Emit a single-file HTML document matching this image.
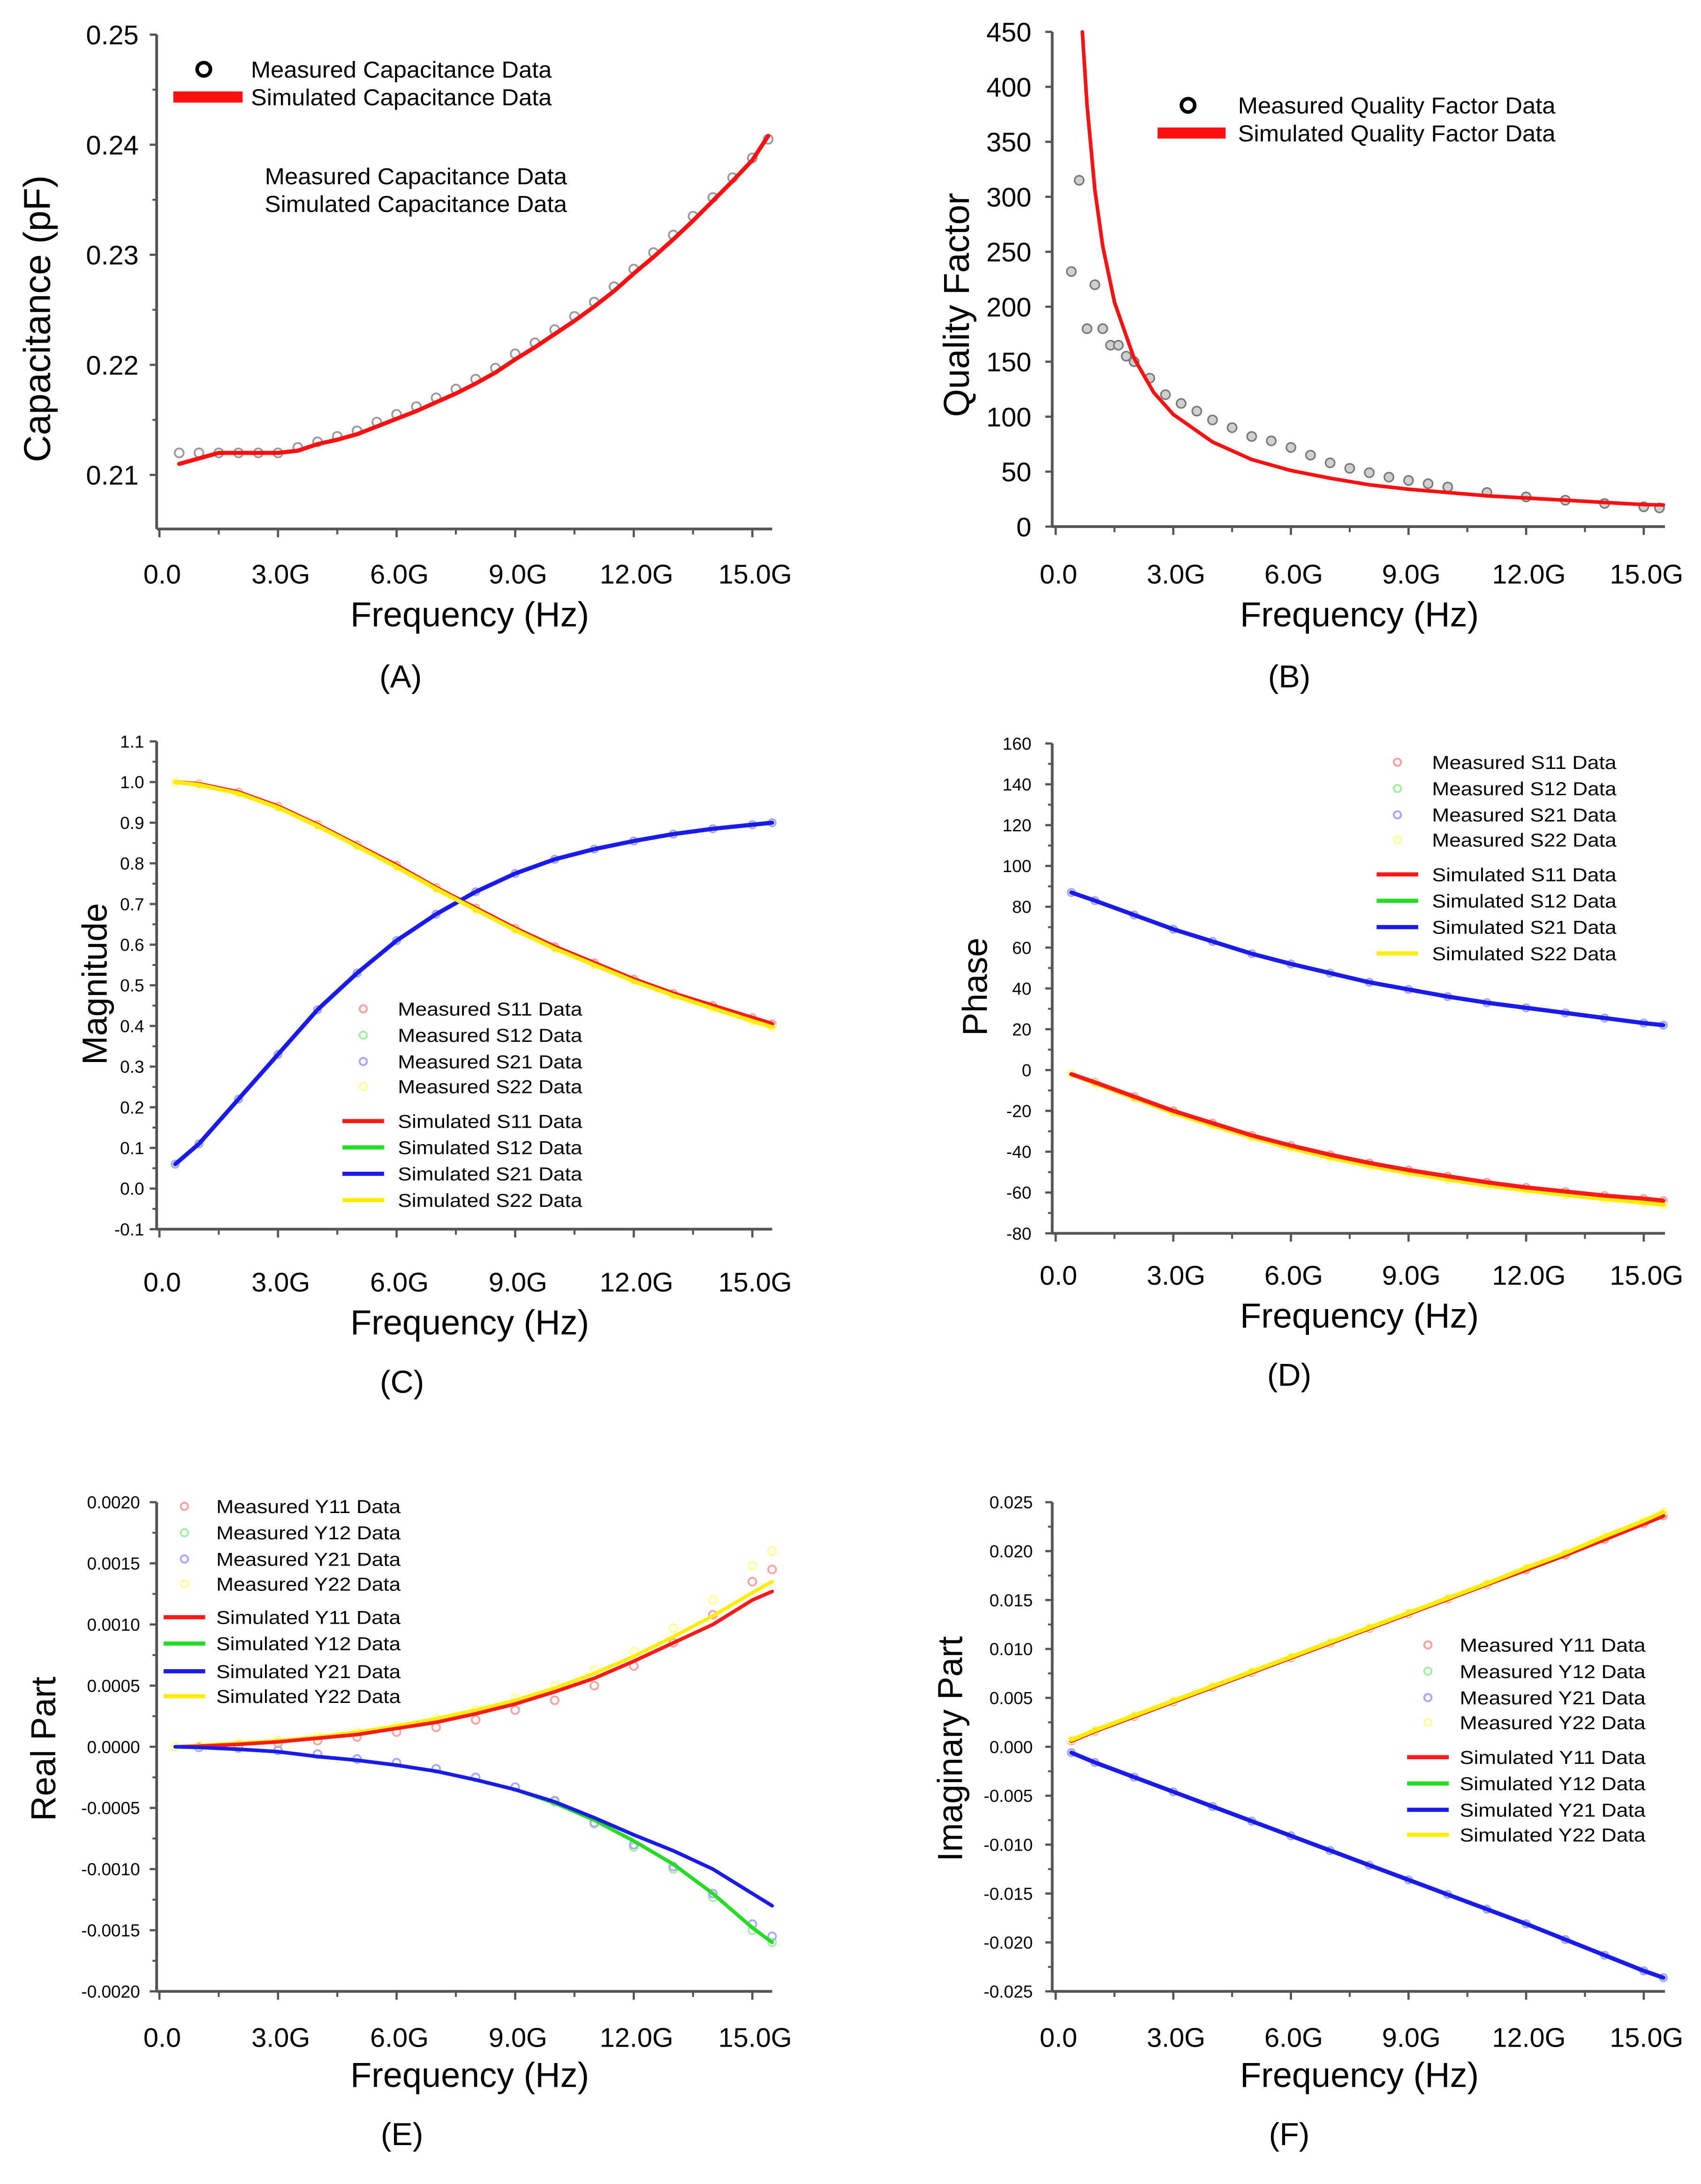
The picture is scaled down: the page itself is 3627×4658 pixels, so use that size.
<!DOCTYPE html>
<html>
<head>
<meta charset="utf-8">
<style>
html,body{margin:0;padding:0;background:#fff;}
svg{display:block;}
text{font-family:"Liberation Sans",Arial,sans-serif;fill:#000;}
</style>
</head>
<body>
<svg id="fig" xmlns="http://www.w3.org/2000/svg" width="3627" height="4658" viewBox="0 0 1227 1576" preserveAspectRatio="none"></svg>
<script>
// ---------- Panel A data ----------
const capFreq = [0.5,1,1.5,2,2.5,3,3.5,4,4.5,5,5.5,6,6.5,7,7.5,8,8.5,9,9.5,10,10.5,11,11.5,12,12.5,13,13.5,14,14.5,15,15.4];
const capMeasured = [0.212,0.212,0.212,0.212,0.212,0.212,0.2125,0.213,0.2135,0.214,0.2148,0.2155,0.2162,0.2170,0.2178,0.2187,0.2197,0.2210,0.2220,0.2232,0.2244,0.2257,0.2271,0.2287,0.2302,0.2318,0.2335,0.2352,0.2370,0.2388,0.2405];
const capSimulated = [0.211,0.2115,0.212,0.212,0.212,0.212,0.2122,0.2128,0.2132,0.2137,0.2144,0.2151,0.2158,0.2166,0.2174,0.2183,0.2193,0.2205,0.2216,0.2228,0.2240,0.2253,0.2267,0.2283,0.2298,0.2314,0.2331,0.2349,0.2367,0.2386,0.2408];
const capTicks = [0.21,0.22,0.23,0.24,0.25];
// ---------- Panel B data ----------
const qMeasFreq = [0.4,0.6,0.8,1.0,1.2,1.4,1.6,1.8,2.0,2.4,2.8,3.2,3.6,4,4.5,5,5.5,6,6.5,7,7.5,8,8.5,9,9.5,10,11,12,13,14,15,15.4];
const qMeasured = [232,315,180,220,180,165,165,155,150,135,120,112,105,97,90,82,78,72,65,58,53,49,45,42,39,36,31,27,24,21,18,17];
const qSimFreq = [0.68,0.8,1,1.2,1.5,2,2.5,3,4,5,6,7,8,9,10,11,12,13,14,15,15.5];
const qSimulated = [450,383,306,255,204,153,122,102,77,61,51,44,38,34,31,28,26,24,22,20,19.7];
const qTicks = [0,50,100,150,200,250,300,350,400,450];
// ---------- Shared frequency grid for C-F ----------
const sFreq = [0.4,1,2,3,4,5,6,7,8,9,10,11,12,13,14,15,15.5];
// ---------- Panel C data (magnitude) ----------
const magS11 = [1.0,0.995,0.975,0.94,0.895,0.845,0.795,0.74,0.69,0.64,0.595,0.555,0.515,0.48,0.45,0.42,0.405];
const magS22 = [1.0,0.993,0.972,0.937,0.892,0.842,0.791,0.737,0.686,0.636,0.59,0.55,0.51,0.475,0.443,0.412,0.397];
const magS21 = [0.06,0.11,0.22,0.33,0.44,0.53,0.61,0.675,0.73,0.775,0.81,0.835,0.855,0.872,0.885,0.895,0.90];
const magS12 = [0.06,0.11,0.22,0.33,0.44,0.53,0.61,0.675,0.73,0.775,0.81,0.835,0.855,0.872,0.885,0.895,0.90];
const magTicks = [-0.1,0,0.1,0.2,0.3,0.4,0.5,0.6,0.7,0.8,0.9,1.0,1.1];
// ---------- Panel D data (phase) ----------
const phS21 = [87,83,76,69,63,57,52,47.5,43,39.5,36,33,30.5,28,25.5,23,22];
const phS12 = [87,83,76,69,63,57,52,47.5,43,39.5,36,33,30.5,28,25.5,23,22];
const phS11 = [-2,-6,-13,-20,-26,-32,-37,-41.5,-45.5,-49,-52,-55,-57.5,-59.5,-61.5,-63,-64];
const phS22 = [-2,-6.5,-13.8,-21,-27.2,-33,-38.3,-43,-47,-50.5,-53.6,-56.5,-59,-61.2,-63.2,-65,-66];
const phTicks = [-80,-60,-40,-20,0,20,40,60,80,100,120,140,160];
// ---------- Panel E data (real part) ----------
const reY11Sim = [0,0.000005,0.00002,0.00004,0.00007,0.0001,0.00015,0.0002,0.00027,0.00035,0.00045,0.00056,0.0007,0.00085,0.001,0.0012,0.00127];
const reY22Sim = [0,0.00001,0.00003,0.00005,0.00008,0.00012,0.00017,0.00023,0.0003,0.00038,0.00048,0.0006,0.00074,0.0009,0.00107,0.00126,0.00135];
const reY11Meas = [0,0.000005,0.00001,0.00003,0.00005,0.00008,0.00012,0.00016,0.00022,0.0003,0.00038,0.0005,0.00066,0.00085,0.00108,0.00135,0.00145];
const reY22Meas = [0,0.00001,0.00003,0.00005,0.00008,0.00012,0.00017,0.00023,0.0003,0.0004,0.0005,0.00063,0.00078,0.00097,0.0012,0.00148,0.0016];
const reY21Sim = [0,-0.000005,-0.00002,-0.00004,-0.00008,-0.00011,-0.00015,-0.0002,-0.00027,-0.00035,-0.00045,-0.00058,-0.00072,-0.00085,-0.001,-0.0012,-0.0013];
const reY12Sim = [0,-0.000005,-0.00002,-0.00004,-0.00008,-0.00011,-0.00015,-0.0002,-0.00027,-0.00035,-0.00046,-0.0006,-0.00077,-0.00096,-0.0012,-0.00148,-0.0016];
const reY21Meas = [0,-0.000005,-0.00001,-0.00003,-0.00006,-0.0001,-0.00013,-0.00018,-0.00025,-0.00033,-0.00044,-0.00062,-0.0008,-0.00098,-0.0012,-0.00145,-0.00155];
const reY12Meas = [0,-0.000005,-0.00001,-0.00003,-0.00006,-0.0001,-0.00013,-0.00018,-0.00025,-0.00033,-0.00045,-0.00063,-0.00082,-0.001,-0.00123,-0.0015,-0.0016];
const reTicks = [-0.002,-0.0015,-0.001,-0.0005,0,0.0005,0.001,0.0015,0.002];
// ---------- Panel F data (imaginary part) ----------
const imY11 = [0.0006,0.0016,0.0031,0.0046,0.0061,0.0076,0.0091,0.0106,0.0121,0.0136,0.0151,0.0166,0.0181,0.0196,0.0212,0.0228,0.0236];
const imY22 = [0.0007,0.0017,0.0032,0.0047,0.0062,0.0077,0.0092,0.0107,0.0122,0.0137,0.0152,0.0167,0.0183,0.0198,0.0215,0.0231,0.0240];
const imY21 = [-0.0006,-0.0016,-0.0031,-0.0046,-0.0061,-0.0076,-0.0091,-0.0106,-0.0121,-0.0136,-0.0151,-0.0166,-0.0181,-0.0197,-0.0213,-0.0229,-0.0236];
const imY12 = [-0.0006,-0.0016,-0.0031,-0.0046,-0.0061,-0.0076,-0.0091,-0.0106,-0.0121,-0.0136,-0.0151,-0.0166,-0.0181,-0.0197,-0.0213,-0.0229,-0.0236];
const imTicks = [-0.025,-0.02,-0.015,-0.01,-0.005,0,0.005,0.01,0.015,0.02,0.025];
const freqTicks = [0,3,6,9,12,15];
const freqTickLabels = ["0.0","3.0G","6.0G","9.0G","12.0G","15.0G"];

const NS = "http://www.w3.org/2000/svg";
const svg = document.getElementById('fig');
function mk(tag, attrs, parent){
  const e = document.createElementNS(NS, tag);
  for (const k in attrs) e.setAttribute(k, attrs[k]);
  (parent||svg).appendChild(e);
  return e;
}
function linMap(v1,p1,v2,p2){ return v => p1 + (v - v1) * (p2 - p1) / (v2 - v1); }

function makePanel(p){
  const g = mk('g', {});
  
  
  const X = linMap(0, p.x0, 15, p.x15);
  const Y = linMap(p.v1, p.p1, p.v2, p.p2);
  const yAx = mk('line', {x1:p.axisX, y1:p.axisTop, x2:p.axisX, y2:p.axisBottom, stroke:'#555', 'stroke-width':2}, g);
  
  
  const xAx = mk('line', {x1:p.axisX, y1:p.axisBottom, x2:p.axisRight, y2:p.axisBottom, stroke:'#555', 'stroke-width':2}, g);
  
  
  p.yTicks.forEach((t,i) => {
    const y = Y(t);
    mk('line', {x1:p.axisX-5, y1:y, x2:p.axisX, y2:y, stroke:'#555', 'stroke-width':1.6}, g);
    if (p.minor && i < p.yTicks.length-1) {
      const ym = (Y(t) + Y(p.yTicks[i+1]))/2;
      mk('line', {x1:p.axisX-3, y1:ym, x2:p.axisX, y2:ym, stroke:'#555', 'stroke-width':1.4}, g);
    }
    const tx = mk('text', {x:p.yLabelX, y:y + p.yFont*0.36, 'font-size':p.yFont, 'text-anchor':'end'}, g);
    
    
    tx.textContent = t.toFixed(p.dec);
  });
  freqTicks.forEach((f,i) => {
    const x = X(f);
    mk('line', {x1:x, y1:p.axisBottom, x2:x, y2:p.axisBottom+6, stroke:'#555', 'stroke-width':1.6}, g);
    const xm = X(f+1.5);
    if (f+1.5 <= 15.5) mk('line', {x1:xm, y1:p.axisBottom, x2:xm, y2:p.axisBottom+4, stroke:'#555', 'stroke-width':1.4}, g);
    const tx = mk('text', {x:x+2, y:p.xLabelY, 'font-size':19.5, 'text-anchor':'middle'}, g);
    
    
    tx.textContent = freqTickLabels[i];
  });
  const xt = mk('text', {x:(p.x0+p.x15)/2+p.titleShift, y:p.xTitleY, 'font-size':25, 'text-anchor':'middle'}, g);
  
  
  xt.textContent = 'Frequency (Hz)';
  const yt = mk('text', {x:0, y:0, 'font-size':p.yTitleFont, 'text-anchor':'middle', transform:'translate(' + p.yTitleX + ',' + p.yTitleY + ') rotate(-90)'}, g);
  
  
  yt.textContent = p.yTitle;
  const cap = mk('text', {x:p.capX, y:p.capY, 'font-size':23, 'text-anchor':'middle'}, g);
  
  
  cap.textContent = p.caption;
  return {g, X, Y};
}
function drawLine(P, xs, ys, color, w, name){
  const d = xs.map((f,i) => (i ? 'L' : 'M') + P.X(f).toFixed(2) + ' ' + P.Y(ys[i]).toFixed(2)).join(' ');
  const e = mk('path', {d, fill:'none', stroke:color, 'stroke-width':w, 'stroke-linejoin':'round', 'stroke-linecap':'round'}, P.g);
  
  
}
function drawPts(P, xs, ys, stroke, fill, r, sw, name){
  const gg = mk('g', {}, P.g);
  
  
  xs.forEach((f,i) => {
    mk('circle', {cx:P.X(f), cy:P.Y(ys[i]), r, fill, stroke, 'stroke-width':sw}, gg);
  });
}
function legText(P, x, y, s, size, len, name){
  const t = mk('text', {x, y:y + size*0.36, 'font-size':size, textLength:len, lengthAdjust:'spacingAndGlyphs'}, P.g);
  
  
  t.textContent = s;
}
const colors = {r:'#ff1a1a', g:'#22dd22', b:'#1a1aee', y:'#ffee00'};
const mcol = {r:'#f6a3a3', g:'#a6eea6', b:'#a9a9f3', y:'#ffff99'};
function sLegend(P, mx, tx, rows, lineRows, prefix, len){
  const keys = ['r','g','b','y'];
  const names = [prefix+'11', prefix+'12', prefix+'21', prefix+'22'];
  rows.forEach((y,i) => {
    mk('circle', {cx:mx, cy:y, r:2.6, fill:'none', stroke:mcol[keys[i]], 'stroke-width':1.4}, P.g);
    legText(P, tx, y, 'Measured  ' + names[i] + ' Data', 13.5, len, 'legend-measured-' + names[i].toLowerCase());
  });
  lineRows.forEach((y,i) => {
    mk('line', {x1:mx-15, y1:y, x2:mx+15, y2:y, stroke:colors[keys[i]], 'stroke-width':3}, P.g);
    legText(P, tx, y, 'Simulated  ' + names[i] + ' Data', 13.5, len, 'legend-simulated-' + names[i].toLowerCase());
  });
}

// ---------- Panel A ----------
const A = makePanel({name:'panel-a-capacitance', x0:115, x15:542.7, v1:0.21, p1:342.7, v2:0.25, p2:25,
  axisX:113, axisTop:25, axisBottom:381.7, axisRight:557, yTicks:capTicks, dec:2, minor:true, yLabelX:100, yFont:19.5,
  xLabelY:421, xTitleY:452, titleShift:10, yTitle:'Capacitance (pF)', yTitleX:36, yTitleY:230, yTitleFont:27, caption:'(A)', capX:289, capY:496});
drawPts(A, capFreq, capMeasured, '#9a9a9a', 'none', 3.2, 1.3, 'measured-capacitance-points');
drawLine(A, capFreq, capSimulated, '#ff1010', 3, 'simulated-capacitance-line');
mk('circle', {cx:147, cy:50, r:4.8, fill:'none', stroke:'#000', 'stroke-width':2.6}, A.g);
legText(A, 181, 50, 'Measured Capacitance Data', 16.5, 217, 'legend-measured-capacitance');
mk('rect', {x:125, y:66, width:50, height:8, fill:'#ff1010'}, A.g);
legText(A, 181, 70, 'Simulated Capacitance Data', 16.5, 217, 'legend-simulated-capacitance');
legText(A, 191, 127, 'Measured Capacitance Data', 16.5, 218, 'duplicate-legend-measured');
legText(A, 191, 147, 'Simulated Capacitance Data', 16.5, 218, 'duplicate-legend-simulated');

// ---------- Panel B ----------
const B = makePanel({name:'panel-b-quality-factor', x0:761.5, x15:1185.7, v1:0, p1:380, v2:450, p2:23,
  axisX:759, axisTop:23, axisBottom:380, axisRight:1201, yTicks:qTicks, dec:0, minor:false, yLabelX:744, yFont:19.5,
  xLabelY:421, xTitleY:452, titleShift:7, yTitle:'Quality Factor', yTitleX:699, yTitleY:220, yTitleFont:26, caption:'(B)', capX:930, capY:496});
drawPts(B, qMeasFreq, qMeasured, '#777', '#d0d0d0', 3.3, 1.1, 'measured-quality-factor-points');
drawLine(B, qSimFreq, qSimulated, '#ff1010', 2.6, 'simulated-quality-factor-line');
mk('circle', {cx:857, cy:76, r:4.8, fill:'none', stroke:'#000', 'stroke-width':2.6}, B.g);
legText(B, 893, 76, 'Measured Quality Factor Data', 16.5, 229, 'legend-measured-quality-factor');
mk('rect', {x:835, y:92, width:49, height:8, fill:'#ff1010'}, B.g);
legText(B, 893, 96, 'Simulated Quality Factor Data', 16.5, 229, 'legend-simulated-quality-factor');

// ---------- Panel C ----------
const C = makePanel({name:'panel-c-magnitude', x0:115, x15:542.7, v1:-0.1, p1:887, v2:1.1, p2:535,
  axisX:113, axisTop:535, axisBottom:887, axisRight:557, yTicks:magTicks, dec:1, minor:true, yLabelX:104, yFont:12.5,
  xLabelY:932, xTitleY:963, titleShift:10, yTitle:'Magnitude', yTitleX:77, yTitleY:710, yTitleFont:25, caption:'(C)', capX:290, capY:1005});
drawPts(C, sFreq, magS11, mcol.r, 'none', 2.6, 1.3, 'measured-s11-points');
drawPts(C, sFreq, magS12, mcol.g, 'none', 2.6, 1.3, 'measured-s12-points');
drawPts(C, sFreq, magS21, mcol.b, 'none', 2.6, 1.3, 'measured-s21-points');
drawPts(C, sFreq, magS22, mcol.y, 'none', 2.6, 1.3, 'measured-s22-points');
drawLine(C, sFreq, magS11, colors.r, 3, 'simulated-s11-line');
drawLine(C, sFreq, magS12, colors.g, 3, 'simulated-s12-line');
drawLine(C, sFreq, magS21, colors.b, 3, 'simulated-s21-line');
drawLine(C, sFreq, magS22, colors.y, 3, 'simulated-s22-line');
sLegend(C, 262, 287, [728,747,766,784], [809,828,847,866], 'S', 133);

// ---------- Panel D ----------
const D = makePanel({name:'panel-d-phase', x0:761.5, x15:1185.7, v1:-80, p1:890, v2:160, p2:536.5,
  axisX:759, axisTop:536.5, axisBottom:890, axisRight:1201, yTicks:phTicks, dec:0, minor:true, yLabelX:744, yFont:12.5,
  xLabelY:927, xTitleY:958, titleShift:7, yTitle:'Phase', yTitleX:712, yTitleY:712, yTitleFont:25, caption:'(D)', capX:930, capY:1000});
drawPts(D, sFreq, phS11, mcol.r, 'none', 2.6, 1.3, 'measured-s11-points');
drawPts(D, sFreq, phS12, mcol.g, 'none', 2.6, 1.3, 'measured-s12-points');
drawPts(D, sFreq, phS21, mcol.b, 'none', 2.6, 1.3, 'measured-s21-points');
drawPts(D, sFreq, phS22, mcol.y, 'none', 2.6, 1.3, 'measured-s22-points');
drawLine(D, sFreq, phS22, colors.y, 3, 'simulated-s22-line');
drawLine(D, sFreq, phS11, colors.r, 3, 'simulated-s11-line');
drawLine(D, sFreq, phS12, colors.g, 3, 'simulated-s12-line');
drawLine(D, sFreq, phS21, colors.b, 3, 'simulated-s21-line');
sLegend(D, 1008, 1033, [550,569,588,606], [631,650,669,688], 'S', 133);

// ---------- Panel E ----------
const E = makePanel({name:'panel-e-real-part', x0:115, x15:542.7, v1:-0.002, p1:1437, v2:0.002, p2:1084,
  axisX:113, axisTop:1084, axisBottom:1437, axisRight:557, yTicks:reTicks, dec:4, minor:true, yLabelX:101, yFont:12.5,
  xLabelY:1477, xTitleY:1506, titleShift:10, yTitle:'Real Part', yTitleX:40, yTitleY:1262, yTitleFont:25, caption:'(E)', capX:290, capY:1548});
drawPts(E, sFreq, reY11Meas, mcol.r, 'none', 2.8, 1.3, 'measured-y11-points');
drawPts(E, sFreq, reY12Meas, mcol.g, 'none', 2.8, 1.3, 'measured-y12-points');
drawPts(E, sFreq, reY21Meas, mcol.b, 'none', 2.8, 1.3, 'measured-y21-points');
drawPts(E, sFreq, reY22Meas, mcol.y, 'none', 2.8, 1.3, 'measured-y22-points');
drawLine(E, sFreq, reY22Sim, colors.y, 2.6, 'simulated-y22-line');
drawLine(E, sFreq, reY11Sim, colors.r, 2.6, 'simulated-y11-line');
drawLine(E, sFreq, reY12Sim, colors.g, 2.6, 'simulated-y12-line');
drawLine(E, sFreq, reY21Sim, colors.b, 2.6, 'simulated-y21-line');
sLegend(E, 133, 156, [1087,1106,1125,1143], [1167,1186,1206,1224], 'Y', 133);

// ---------- Panel F ----------
const F = makePanel({name:'panel-f-imaginary-part', x0:761.5, x15:1185.7, v1:-0.025, p1:1437, v2:0.025, p2:1084,
  axisX:759, axisTop:1084, axisBottom:1437, axisRight:1201, yTicks:imTicks, dec:3, minor:true, yLabelX:745, yFont:12.5,
  xLabelY:1477, xTitleY:1506, titleShift:7, yTitle:'Imaginary Part', yTitleX:694, yTitleY:1262, yTitleFont:25, caption:'(F)', capX:930, capY:1548});
drawPts(F, sFreq, imY11, mcol.r, 'none', 2.6, 1.3, 'measured-y11-points');
drawPts(F, sFreq, imY12, mcol.g, 'none', 2.6, 1.3, 'measured-y12-points');
drawPts(F, sFreq, imY21, mcol.b, 'none', 2.6, 1.3, 'measured-y21-points');
drawPts(F, sFreq, imY22, mcol.y, 'none', 2.6, 1.3, 'measured-y22-points');
drawLine(F, sFreq, imY11, colors.r, 3, 'simulated-y11-line');
drawLine(F, sFreq, imY22, colors.y, 3, 'simulated-y22-line');
drawLine(F, sFreq, imY12, colors.g, 3, 'simulated-y12-line');
drawLine(F, sFreq, imY21, colors.b, 3, 'simulated-y21-line');
sLegend(F, 1030, 1053, [1187,1206,1225,1243], [1268,1287,1306,1324], 'Y', 134);
</script>
</body>
</html>
